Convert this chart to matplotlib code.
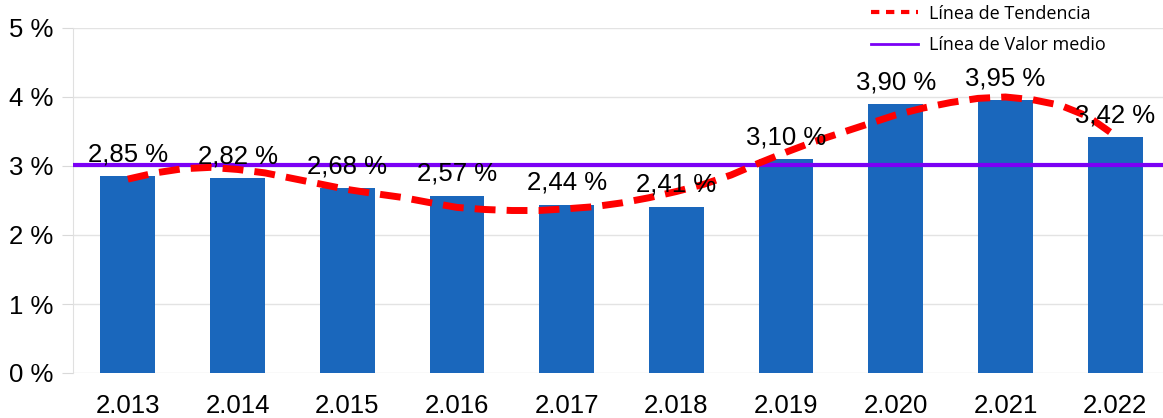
import numpy as np
import matplotlib.pyplot as plt
from matplotlib.lines import Line2D

years = ['2.013', '2.014', '2.015', '2.016', '2.017', '2.018', '2.019', '2.020', '2.021', '2.022']
values = [2.85, 2.82, 2.68, 2.57, 2.44, 2.41, 3.10, 3.90, 3.95, 3.42]
y_ticks = [0, 1, 2, 3, 4, 5]

# trend line (x in category units, 0 = 2.013)
trend_x = [0.0, 0.25, 0.5, 0.75, 1.0, 1.25, 1.5, 1.75, 2.0, 2.25, 2.5, 2.75,
           3.0, 3.25, 3.5, 3.75, 4.0, 4.25, 4.5, 4.75, 5.0, 5.25, 5.5, 5.75,
           6.0, 6.25, 6.5, 6.75, 7.0, 7.25, 7.5, 7.75, 8.0, 8.25, 8.5, 8.75, 9.0]
trend_y = [2.81, 2.90, 2.96, 2.98, 2.95, 2.90, 2.82, 2.74, 2.66, 2.60, 2.545, 2.47,
           2.40, 2.37, 2.355, 2.355, 2.38, 2.41, 2.465, 2.54, 2.63, 2.735, 2.87, 3.04,
           3.20, 3.35, 3.48, 3.61, 3.74, 3.84, 3.92, 3.98, 4.00, 3.96, 3.88, 3.72, 3.44]

bar_color = '#1a67bc'
mean_color = '#7b00f5'
trend_color = '#ff0000'

x = np.arange(len(values))
mean_val = np.mean(values)

plt.rcParams['font.family'] = ['Liberation Sans', 'DejaVu Sans']

fig = plt.figure(figsize=(11.63, 4.18), dpi=100)
ax = fig.add_axes([73 / 1163, 45 / 418, 1090 / 1163, 345 / 418])

ax.yaxis.grid(True, color='#e3e3e3', linewidth=1)
ax.set_axisbelow(True)

ax.bar(x, values, width=0.5, color=bar_color, zorder=2)
ax.axhline(mean_val, color=mean_color, linewidth=3, zorder=3)
ax.plot(trend_x, trend_y, color=trend_color, linewidth=5, linestyle=(0, (3, 1.6)),
        solid_joinstyle='round', zorder=4)

for xi, v in zip(x, values):
    ax.annotate(f'{v:.2f} %'.replace('.', ','), (xi, v), xytext=(0, 7),
                textcoords='offset points', ha='center', va='bottom',
                fontsize=18.5, color='black', zorder=5)

ax.set_xlim(-0.5, 1090 / 109.7 - 0.5)
ax.set_ylim(0, 5)
ax.set_yticks(y_ticks)
ax.set_yticklabels([f'{t} %' for t in y_ticks], fontsize=18.5)
ax.set_xticks(x)
ax.set_xticklabels(years, fontsize=18.5)
ax.tick_params(axis='x', length=0, pad=15)
ax.tick_params(axis='y', length=8, color='#d9d9d9', pad=6)

for s in ['top', 'right', 'bottom']:
    ax.spines[s].set_visible(False)
ax.spines['left'].set_color('#e0e0e0')

handles = [Line2D([], [], color=trend_color, linewidth=3, linestyle=(0, (2, 1.6))),
           Line2D([], [], color=mean_color, linewidth=2)]
leg = fig.legend(handles, ['Línea de Tendencia', 'Línea de Valor medio'],
                 loc='upper left', bbox_to_anchor=(860 / 1163, 1.015), frameon=False,
                 prop={'family': 'Open Sans', 'size': 13}, handlelength=2.6,
                 handletextpad=0.6, labelspacing=0.75, borderaxespad=0.2)

fig.savefig('out.png', dpi=100)
